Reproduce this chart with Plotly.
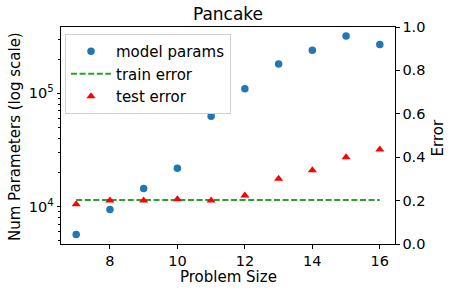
import plotly.graph_objects as go

problem_size = [7, 8, 9, 10, 11, 12, 13, 14, 15, 16]
model_params = [5700, 9470, 14500, 21800, 62800, 110000, 181000, 240000, 321000, 270000]
train_error = [0.203] * 10
test_error = [0.183, 0.201, 0.201, 0.206, 0.201, 0.223, 0.301, 0.340, 0.400, 0.435]

FONT = "DejaVu Sans"
L, R, T, B = 61, 395, 27, 244
W, H = 452, 292

def px_x(x):
    return (x - L) / (R - L)

def px_y(y):
    return (B - y) / (B - T)

fig = go.Figure()
fig.add_trace(go.Scatter(
    x=problem_size, y=model_params, mode="markers", name="model params",
    marker=dict(symbol="circle", size=7.5, color="#1f77b4"), yaxis="y"))
fig.add_trace(go.Scatter(
    x=problem_size, y=train_error, mode="lines", name="train error",
    line=dict(color="#2ca02c", width=2, dash="6px,2.6px"), yaxis="y2"))
fig.add_trace(go.Scatter(
    x=problem_size, y=test_error, mode="markers", name="test error",
    marker=dict(symbol="triangle-up", size=8, color="#ff0000"), yaxis="y2"))

annotations = [
    dict(text="Num Parameters (log scale)", x=px_x(15), y=px_y(137), textangle=-90,
         font=dict(size=15)),
    dict(text="Error", x=px_x(437), y=px_y(138.5), textangle=-90, font=dict(size=15)),
    dict(text="Problem Size", x=px_x(228), y=px_y(277), font=dict(size=15)),
]
for a in annotations:
    a.update(xref="paper", yref="paper", xanchor="center", yanchor="middle",
             showarrow=False)

fig.update_layout(
    width=W, height=H,
    margin=dict(l=L, r=W - R, t=T, b=H - B, autoexpand=False),
    paper_bgcolor="white", plot_bgcolor="white",
    font=dict(family=FONT, size=14.5, color="black"),
    title=dict(text="Pancake", x=0.5, xref="paper", xanchor="center",
               y=1 - 14 / H, yanchor="middle", font=dict(size=17)),
    showlegend=True,
    legend=dict(x=px_x(65), y=px_y(34), xanchor="left", yanchor="top",
                bgcolor="white", bordercolor="#d0d0d0", borderwidth=1,
                font=dict(size=15), itemwidth=40),
    annotations=annotations,
    xaxis=dict(range=[6.55, 16.45], tickvals=[8, 10, 12, 14, 16], automargin=False,
               showgrid=False, zeroline=False, showline=True, linecolor="black",
               linewidth=1, mirror=True, ticks="outside", ticklen=3.5,
               tickcolor="black", tickfont=dict(size=14.5)),
    yaxis=dict(type="log", range=[3.671, 5.585], automargin=False,
               tickvals=[1e4, 1e5], ticktext=["10<sup>4</sup>", "10<sup>5</sup>"],
               showgrid=False, zeroline=False, showline=True, linecolor="black",
               linewidth=1, ticks="outside", ticklen=3.5, tickcolor="black",
               tickfont=dict(size=14.5),
               minor=dict(ticks="outside", ticklen=2, tickcolor="black",
                          tickvals=[5000, 6000, 7000, 8000, 9000, 20000, 30000,
                                    40000, 50000, 60000, 70000, 80000, 90000,
                                    200000, 300000], showgrid=False)),
    yaxis2=dict(overlaying="y", side="right", range=[0, 1], dtick=0.2, automargin=False,
                tickformat=".1f", showgrid=False, zeroline=False, showline=True,
                linecolor="black", linewidth=1, ticks="outside", ticklen=3.5,
                tickcolor="black", tickfont=dict(size=14.5)),
)

fig.write_html("out.html", config={"displayModeBar": False},
               post_script="document.body.style.margin='0';document.body.style.padding='0';")
